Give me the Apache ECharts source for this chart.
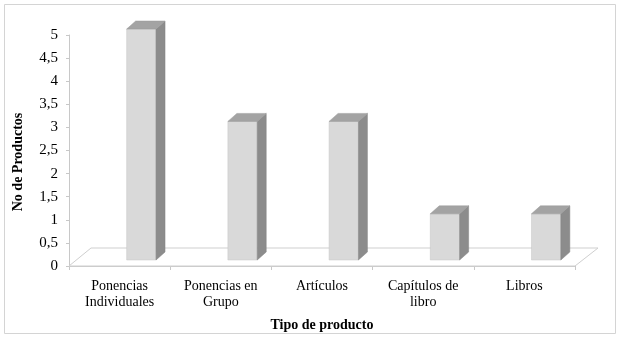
<!DOCTYPE html>
<html>
<head>
<meta charset="utf-8">
<script src="https://cdn.jsdelivr.net/npm/echarts@6/dist/echarts.min.js"></script>
<style>
html,body{margin:0;padding:0;background:#fff;}
#c{width:624px;height:341px;}
</style>
</head>
<body>
<div id="c"></div>
<script>
const categories = ['Ponencias\nIndividuales', 'Ponencias en\nGrupo', 'Artículos', 'Capítulos de\nlibro', 'Libros'];
const values = [5, 3, 3, 1, 1];
const yTickLabels = ['0', '0,5', '1', '1,5', '2', '2,5', '3', '3,5', '4', '4,5', '5'];
const xTitle = 'Tipo de producto';
const yTitle = 'No de Productos';

const FONT = '"Liberation Serif", "Times New Roman", serif';
const chart = echarts.init(document.getElementById('c'), null, {renderer: 'canvas'});

const barData = values.map((v, i) => [i, v]);

const option = {
  backgroundColor: '#fff',
  animation: false,
  grid: {left: 69, top: 35, right: 49, bottom: 75, containLabel: false},
  graphic: [
    {type: 'rect', shape: {x: 4.5, y: 4.5, width: 611, height: 329}, style: {fill: 'none', stroke: '#d4d4d4', lineWidth: 1}, z: -10},
    {type: 'text', x: 18, y: 162, rotation: Math.PI / 2,
     style: {text: yTitle, font: 'bold 14px ' + FONT, fill: '#000', align: 'center', verticalAlign: 'middle'}}
  ],
  xAxis: {
    type: 'category',
    data: categories,
    name: xTitle,
    nameLocation: 'middle',
    nameGap: 52,
    nameTextStyle: {fontFamily: FONT, fontWeight: 'bold', fontSize: 14, color: '#000'},
    axisLine: {show: true, lineStyle: {color: '#c8c8c8', width: 1}},
    axisTick: {show: true, length: 4, lineStyle: {color: '#c8c8c8'}},
    axisLabel: {fontFamily: FONT, fontSize: 14, color: '#000', margin: 12, lineHeight: 16}
  },
  yAxis: {
    type: 'value',
    min: 0, max: 5, interval: 0.5,
    axisLine: {show: true, lineStyle: {color: '#c8c8c8', width: 1}},
    axisTick: {show: true, length: 3, lineStyle: {color: '#c8c8c8'}},
    splitLine: {show: false},
    axisLabel: {
      fontFamily: FONT, fontSize: 15, color: '#000', margin: 11,
      formatter: function (v) { return yTickLabels[Math.round(v / 0.5)]; }
    }
  },
  series: [
    {
      type: 'custom',
      data: [[0, 0]],
      z: 1,
      renderItem: function (params, api) {
        const cs = params.coordSys;
        const x = cs.x, y = cs.y + cs.height, w = cs.width;
        return {
          type: 'polygon',
          shape: {points: [[x, y], [x + 22, y - 18], [x + w + 23, y - 18], [x + w, y]]},
          style: {fill: 'none', stroke: '#cfcfcf', lineWidth: 1}
        };
      }
    },
    {
      type: 'custom',
      data: barData,
      encode: {x: 0, y: 1},
      z: 3,
      renderItem: function (params, api) {
        const idx = api.value(0);
        const v = api.value(1);
        const c = api.coord([idx, v]);
        const c0 = api.coord([idx, 0]);
        const band = api.size([1, 0])[0];
        const x1 = c[0] + band * 0.07;
        const x2 = x1 + band * 0.29;
        const top = c[1] - 6;
        const bot = c0[1] - 6;
        const dx = 9, dy = 8;
        return {
          type: 'group',
          children: [
            {type: 'polygon', shape: {points: [[x1, top], [x2, top], [x2, bot], [x1, bot]]},
             style: {fill: '#d9d9d9', stroke: '#c4c4c4', lineWidth: 0.5}},
            {type: 'polygon', shape: {points: [[x2, top], [x2 + dx, top - dy], [x2 + dx, bot - dy], [x2, bot]]},
             style: {fill: '#8c8c8c', stroke: '#858585', lineWidth: 0.5}},
            {type: 'polygon', shape: {points: [[x1, top], [x1 + dx, top - dy], [x2 + dx, top - dy], [x2, top]]},
             style: {fill: '#a3a3a3', stroke: '#9a9a9a', lineWidth: 0.5}}
          ]
        };
      }
    }
  ]
};
chart.setOption(option);
</script>
</body>
</html>
